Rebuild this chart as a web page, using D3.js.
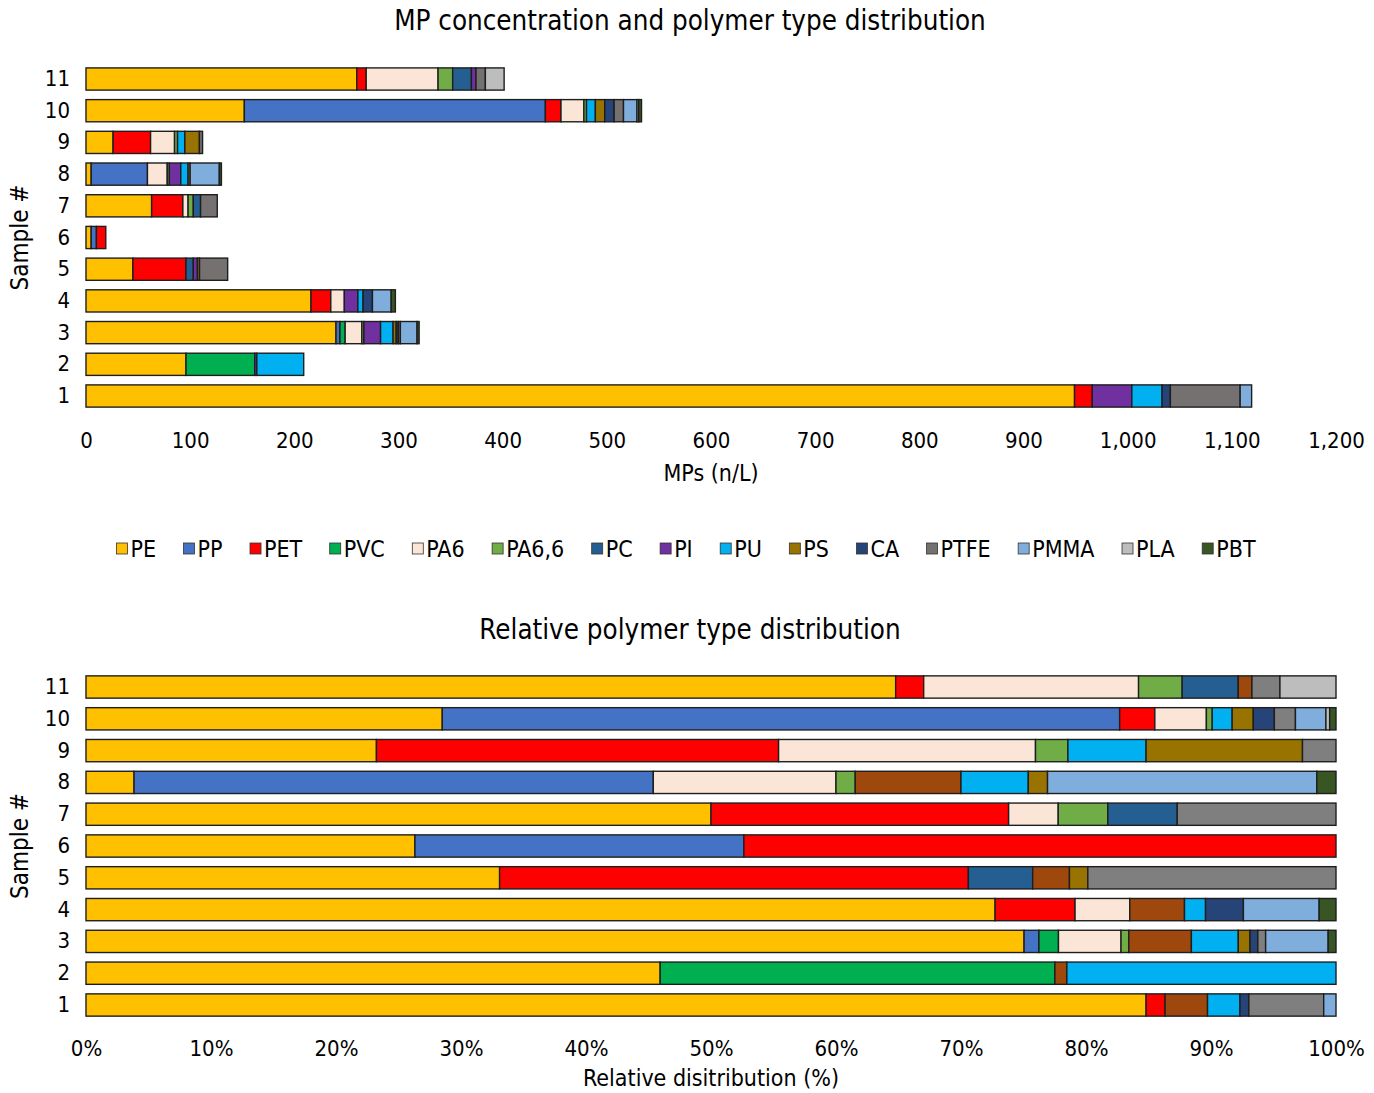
<!DOCTYPE html>
<html>
<head>
<meta charset="utf-8">
<script src="https://cdn.jsdelivr.net/npm/d3@7"></script>
<style>
    body { margin: 0; background: #fff; }
    text { font-family: "DejaVu Sans Condensed", "Liberation Sans Narrow", sans-serif; fill: #000; }
</style>
</head>
<body>
<div id="chart"></div>
<script>
// Sample ids (index 0 = sample 1)
const samples = ["1", "2", "3", "4", "5", "6", "7", "8", "9", "10", "11"];

const polymers = ["PE", "PP", "PET", "PVC", "PA6", "PA6,6", "PC", "PI", "PU", "PS", "CA", "PTFE", "PMMA", "PLA", "PBT"];

// MPs (n/L) per polymer, one value per sample 1..11
const PE    = [949, 96, 240, 216, 45, 5, 63, 5, 26, 152, 260];
const PP    = [0, 0, 3.8, 0, 0, 5, 0, 54, 0, 289, 0];
const PET   = [17, 0, 0, 19, 51, 9, 30, 0, 36, 15, 9];
const PVC   = [0, 66, 5, 0, 0, 0, 0, 0, 0, 0, 0];
const PA6   = [0, 0, 16, 13, 0, 0, 5, 19, 23, 22, 69];
const PA66  = [0, 0, 2, 0, 0, 0, 5, 2, 2.9, 2.5, 14];
const PC    = [0, 0, 0, 0, 7, 0, 7, 0, 0, 0, 18];
const PI    = [38, 2, 16, 13, 4, 0, 0, 11, 0, 0, 4.4];
const PU    = [29, 45, 12, 5, 0, 0, 0, 7, 7, 8.5, 0];
const PS    = [0, 0, 3, 0, 2, 0, 0, 2, 14, 9, 0];
const CA    = [8, 0, 2, 9, 0, 0, 0, 0, 0, 9, 0];
const PTFE  = [67, 0, 2, 0, 27, 0, 16, 0, 3, 9, 9];
const PMMA  = [11, 0, 16, 18, 0, 0, 0, 28, 0, 13, 0];
const PLA   = [0, 0, 0, 0, 0, 0, 0, 0, 0, 1.6, 18];
const PBT   = [0, 0, 2, 4, 0, 0, 0, 2, 0, 2.7, 0];

const absTicks = [0, 100, 200, 300, 400, 500, 600, 700, 800, 900, 1000, 1100, 1200];
const relTicks = [0, 0.1, 0.2, 0.3, 0.4, 0.5, 0.6, 0.7, 0.8, 0.9, 1];

// colours (the relative chart uses a different shade for PI and PTFE)
const colorsTop = ["#FFC000", "#4472C4", "#FF0000", "#00B050", "#FBE5D6", "#70AD47", "#255E91", "#7030A0",
    "#00B0F0", "#997300", "#264478", "#767171", "#7FAEDD", "#BDBDBD", "#375623"];
const colorsBottom = colorsTop.slice();
colorsBottom[7] = "#9E480E";
colorsBottom[11] = "#7F7F7F";

// build rows for d3.stack
const seriesByPolymer = [PE, PP, PET, PVC, PA6, PA66, PC, PI, PU, PS, CA, PTFE, PMMA, PLA, PBT];
const rows = samples.map((s, i) => {
    let row = { sample: s };
    polymers.forEach((p, j) => row[p] = seriesByPolymer[j][i]);
    return row;
});

class StackedBarVis {
    constructor(svg, opts) {
        this.svg = svg;
        this.opts = opts;
        this.initVis();
    }

    initVis() {
        let vis = this;
        let o = vis.opts;

        vis.x = d3.scaleLinear().domain(o.domain).range([86, 1336]);

        let step = (o.yBottom - o.yTop) / 10;
        vis.y = d3.scaleBand()
            .domain(samples.slice().reverse())
            .range([o.yTop - step / 2, o.yBottom + step / 2])
            .paddingInner(0.3)
            .paddingOuter(0.15);

        vis.g = vis.svg.append("g");

        // title
        vis.g.append("text")
            .attr("x", 690)
            .attr("y", o.titleY)
            .attr("text-anchor", "middle")
            .attr("dominant-baseline", "central")
            .style("font-size", "27.5px")
            .text(o.title);

        // y axis
        vis.g.append("g")
            .attr("transform", "translate(86,0)")
            .call(d3.axisLeft(vis.y).tickSize(0).tickPadding(16))
            .call(g => g.select(".domain").remove())
            .selectAll("text")
            .style("font-size", "22px")
            .style("font-family", null);

        vis.g.append("text")
            .attr("transform", `translate(20, ${(o.yTop + o.yBottom) / 2}) rotate(-90)`)
            .attr("text-anchor", "middle")
            .attr("dominant-baseline", "central")
            .style("font-size", "24px")
            .text("Sample #");

        // x axis
        vis.g.append("g")
            .attr("transform", `translate(0, ${o.tickY})`)
            .call(d3.axisBottom(vis.x).tickValues(o.ticks).tickFormat(o.format).tickSize(0).tickPadding(0))
            .call(g => g.select(".domain").remove())
            .selectAll("text")
            .attr("dy", "0.35em")
            .style("font-size", "22px")
            .style("font-family", null);

        vis.g.append("text")
            .attr("x", 711)
            .attr("y", o.xTitleY)
            .attr("text-anchor", "middle")
            .attr("dominant-baseline", "central")
            .style("font-size", "23px")
            .text(o.xTitle);

        vis.wrangleData();
    }

    wrangleData() {
        let vis = this;
        let stack = d3.stack().keys(polymers);
        if (vis.opts.relative) stack.offset(d3.stackOffsetExpand);
        vis.stacked = stack(rows);
        vis.updateVis();
    }

    updateVis() {
        let vis = this;
        let colors = vis.opts.colors;

        vis.g.append("g")
            .selectAll("g")
            .data(vis.stacked)
            .enter()
            .append("g")
            .attr("fill", d => colors[d.index])
            .selectAll("rect")
            .data(d => d.filter(v => v[1] - v[0] > 0))
            .enter()
            .append("rect")
            .attr("x", d => vis.x(d[0]))
            .attr("y", d => vis.y(d.data.sample))
            .attr("width", d => vis.x(d[1]) - vis.x(d[0]))
            .attr("height", vis.y.bandwidth())
            .attr("stroke", "#1e1e1e")
            .attr("stroke-width", 1.4);
    }
}

const svg = d3.select("#chart").append("svg")
    .attr("width", 1374)
    .attr("height", 1093);

new StackedBarVis(svg, {
    title: "MP concentration and polymer type distribution",
    titleY: 20,
    domain: [0, 1200],
    yTop: 79,
    yBottom: 396,
    ticks: absTicks,
    format: d3.format(","),
    tickY: 440,
    xTitle: "MPs (n/L)",
    xTitleY: 473,
    colors: colorsTop,
    relative: false
});

new StackedBarVis(svg, {
    title: "Relative polymer type distribution",
    titleY: 629,
    domain: [0, 1],
    yTop: 687,
    yBottom: 1005,
    ticks: relTicks,
    format: d3.format(".0%"),
    tickY: 1048,
    xTitle: "Relative disitribution (%)",
    xTitleY: 1078,
    colors: colorsBottom,
    relative: true
});

// legend (top chart colours), laid out left to right and centred
const legend = svg.append("g").attr("class", "legend");
const items = legend.selectAll("g")
    .data(polymers)
    .enter()
    .append("g");

items.append("rect")
    .attr("x", 0)
    .attr("y", -6)
    .attr("width", 11)
    .attr("height", 11)
    .attr("fill", (d, i) => colorsTop[i])
    .attr("stroke", "#333")
    .attr("stroke-width", 0.8);

items.append("text")
    .attr("x", 14)
    .attr("y", 0)
    .attr("dominant-baseline", "central")
    .style("font-size", "23px")
    .text(d => d);

let cursor = 0;
items.each(function() {
    let w = d3.select(this).select("text").node().getComputedTextLength();
    d3.select(this).attr("transform", `translate(${cursor}, 0)`);
    cursor += 14 + w + 27.5;
});
cursor -= 27.5;
legend.attr("transform", `translate(${686 - cursor / 2}, 549)`);
</script>
</body>
</html>
